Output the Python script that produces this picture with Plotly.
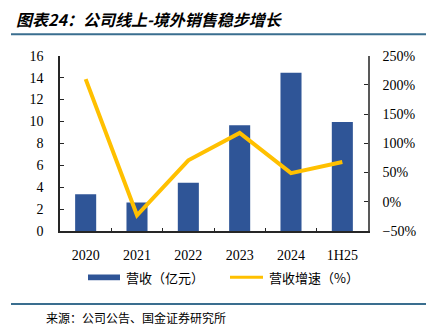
import plotly.graph_objects as go

categories = ["2020", "2021", "2022", "2023", "2024", "1H25"]
revenue = [3.35, 2.6, 4.4, 9.65, 14.45, 9.95]
growth = [210, -23, 71, 118, 49, 68]

W, H = 426, 336
def px(x):
    return x / W
def py(y):
    return 1 - y / H

BAR = "#2F5597"
LINE = "#FFC000"
SERIF = "Liberation Serif, Times New Roman, serif"
CJK = "Noto Sans CJK SC, sans-serif"

fig = go.Figure()
fig.add_trace(go.Bar(x=categories, y=revenue, name="营收（亿元）", marker=dict(color=BAR, line=dict(width=0)),
                     width=0.41, yaxis="y", showlegend=False))
fig.add_trace(go.Scatter(x=categories, y=growth, name="营收增速（%）", mode="lines",
                         line=dict(color=LINE, width=4), yaxis="y2", showlegend=False))

fig.update_layout(
    width=W, height=H, margin=dict(l=0, r=0, t=0, b=0),
    paper_bgcolor="white", plot_bgcolor="white",
    xaxis=dict(domain=[px(60), px(368)], type="category", range=[-0.5, 5.5],
               showline=True, linecolor="#262626", linewidth=1.5,
               ticks="inside", tickson="boundaries", ticklen=3, tickcolor="#262626",
               tickfont=dict(family=SERIF, size=14, color="black"), ticklabelstandoff=10,
               showgrid=False, zeroline=False),
    yaxis=dict(domain=[py(234.5), py(51)], range=[0, 16], dtick=2,
               showline=True, linecolor="#262626", linewidth=1.5,
               ticks="inside", ticklen=4, tickcolor="#262626",
               tickfont=dict(family=SERIF, size=14, color="black"), ticklabelstandoff=12,
               showgrid=False, zeroline=False),
    yaxis2=dict(domain=[py(234.5), py(51)], overlaying="y", side="right", anchor="x",
                range=[-50, 250], dtick=50, ticksuffix="%",
                showline=True, linecolor="#595959", linewidth=1.5,
                ticks="inside", ticklen=4, tickcolor="#262626",
                tickfont=dict(family=SERIF, size=14, color="black"), ticklabelstandoff=10,
                showgrid=False, zeroline=False),
    font=dict(family=CJK),
)

shapes = [
    dict(type="line", xref="paper", yref="paper", x0=px(11), x1=1, y0=py(28.5), y1=py(28.5),
         line=dict(color="#3A6E8F", width=2)),
    dict(type="line", xref="paper", yref="paper", x0=px(11), x1=1, y0=py(311), y1=py(311),
         line=dict(color="#3A6E8F", width=2)),
    dict(type="rect", xref="paper", yref="paper", x0=px(88), x1=px(120), y0=py(286), y1=py(280),
         fillcolor=BAR, line=dict(width=0)),
    dict(type="line", xref="paper", yref="paper", x0=px(230), x1=px(263), y0=py(283), y1=py(283),
         line=dict(color=LINE, width=3)),
]
fig.update_layout(shapes=shapes)

annotations = [
    dict(text="<b><i>图表24：公司线上-境外销售稳步增长</i></b>", x=px(14), y=py(13), xref="paper", yref="paper",
         xanchor="left", yanchor="middle", showarrow=False, font=dict(family=CJK, size=16, color="black")),
    dict(text="营收（亿元）", x=px(124), y=py(283), xref="paper", yref="paper",
         xanchor="left", yanchor="middle", showarrow=False, font=dict(family=CJK, size=13, color="black")),
    dict(text="营收增速（%）", x=px(267), y=py(283), xref="paper", yref="paper",
         xanchor="left", yanchor="middle", showarrow=False, font=dict(family=CJK, size=13, color="black")),
    dict(text="来源：公司公告、国金证券研究所", x=px(44), y=py(325), xref="paper", yref="paper",
         xanchor="left", yanchor="middle", showarrow=False, font=dict(family=CJK, size=12, color="black")),
]
fig.update_layout(annotations=annotations)

fig.write_html("out.html")
